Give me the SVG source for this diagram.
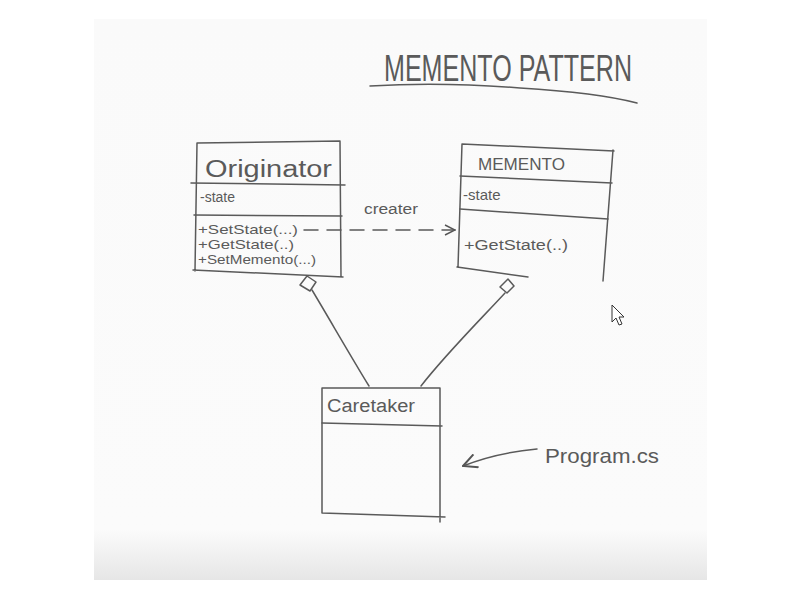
<svg xmlns="http://www.w3.org/2000/svg" width="800" height="600" viewBox="0 0 800 600">
<defs>
<linearGradient id="paper" x1="0" y1="0" x2="0" y2="1">
<stop offset="0" stop-color="#fafafa"/>
<stop offset="0.91" stop-color="#fbfbfb"/>
<stop offset="1" stop-color="#e6e6e6"/>
</linearGradient>
<marker id="open" viewBox="0 0 12 12" refX="11" refY="6" markerWidth="12" markerHeight="12" markerUnits="userSpaceOnUse" orient="auto">
<path d="M1,1 L11,6 L1,11" fill="none" stroke="#555" stroke-width="1.4"/>
</marker>
<marker id="open2" viewBox="0 0 16 16" refX="15" refY="8" markerWidth="16" markerHeight="16" markerUnits="userSpaceOnUse" orient="auto">
<path d="M1,1 L15,8 L1,15" fill="none" stroke="#555" stroke-width="2"/>
</marker>
</defs>
<style>
.ln{fill:none;stroke:#5a5a5a;stroke-width:1.5;stroke-linecap:round;stroke-linejoin:round}
.t{font-family:"Liberation Sans",Arial,sans-serif;fill:#5a5a5a}
</style>
<rect width="800" height="600" fill="#ffffff"/>
<rect x="94" y="19" width="613" height="561" fill="url(#paper)"/>

<g id="title">
<text class="t" x="384" y="81" font-size="37" textLength="248" lengthAdjust="spacingAndGlyphs">MEMENTO PATTERN</text>
<path class="ln" d="M370,86 C420,83 470,84 520,88 C570,91 610,96 637,103"/>
</g>

<g id="originator">
<path class="ln" d="M197,143 L340,141 M197,143 L195,271 M340,141 L341,277 M193,270 L343,277"/>
<path class="ln" d="M191,183 L345,185 M194,215 L342,216"/>
<text class="t" x="205" y="177" font-size="23" textLength="127" lengthAdjust="spacingAndGlyphs">Originator</text>
<text class="t" x="200" y="202" font-size="14">-state</text>
<text class="t" x="198" y="234" font-size="13" textLength="100" lengthAdjust="spacingAndGlyphs">+SetState(...)</text>
<text class="t" x="198" y="249" font-size="13" textLength="96" lengthAdjust="spacingAndGlyphs">+GetState(..)</text>
<text class="t" x="198" y="264" font-size="13" textLength="118" lengthAdjust="spacingAndGlyphs">+SetMemento(...)</text>
</g>

<g id="memento">
<path class="ln" d="M462,144 L614,151 M462,144 L458,267 M613,150 L603,281 M457,267 L528,277"/>
<path class="ln" d="M460,176 L612,183 M460,209 L608,219"/>
<text class="t" x="478" y="170" font-size="16" textLength="87" lengthAdjust="spacingAndGlyphs">MEMENTO</text>
<text class="t" x="463" y="200" font-size="15">-state</text>
<text class="t" x="464" y="250" font-size="14" textLength="104" lengthAdjust="spacingAndGlyphs">+GetState(..)</text>
</g>

<g id="caretaker">
<path class="ln" d="M322,388 L440,388 M322,388 L322,513 M440,388 L440,522 M322,513 L445,517"/>
<path class="ln" d="M322,423 L442,426"/>
<text class="t" x="327" y="412" font-size="18" textLength="88" lengthAdjust="spacingAndGlyphs">Caretaker</text>
</g>

<g id="program">
<text class="t" x="545" y="463" font-size="21" textLength="114" lengthAdjust="spacingAndGlyphs">Program.cs</text>
</g>

<g id="connectors">
<path class="ln" d="M304,230 L455,230" stroke-dasharray="14,9" marker-end="url(#open)"/>
<text class="t" x="364" y="214" font-size="14" textLength="54" lengthAdjust="spacingAndGlyphs">creater</text>
<path class="ln" d="M312,290 C330,320 350,355 369,386"/>
<path class="ln" d="M307,276 L316,282 L310,291 L300,285 Z" fill="#fafafa"/>
<path class="ln" d="M505,293 C480,320 445,355 421,386"/>
<path class="ln" d="M508,279 L514,286 L507,293 L500,287 Z" fill="#fafafa"/>
<path class="ln" d="M537,449 C515,451 488,456 463,466" stroke-width="1.8" marker-end="url(#open2)"/>
</g>

<path d="M612,305 L612,322 L616,318 L619,325 L622,324 L619,317 L624,317 Z" fill="#fff" stroke="#333" stroke-width="1"/>
</svg>
